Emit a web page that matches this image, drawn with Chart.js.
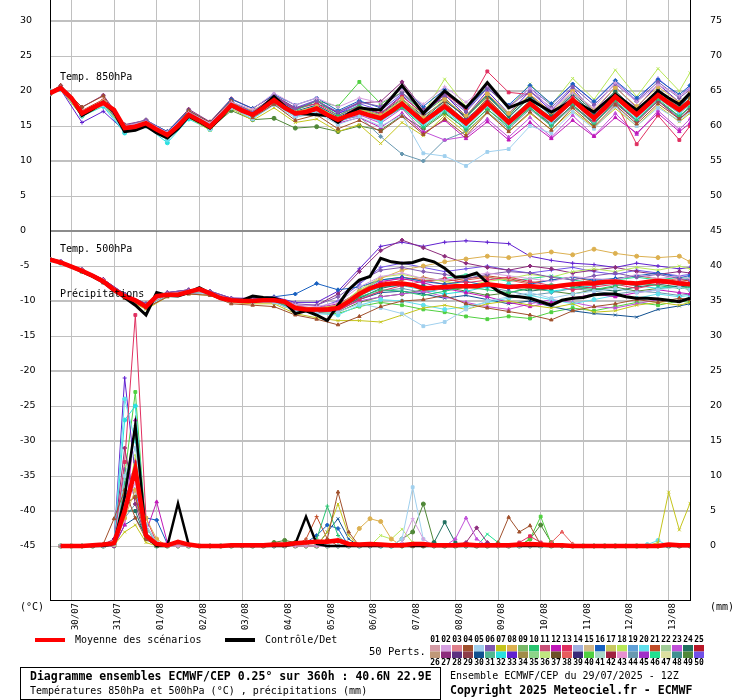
<!DOCTYPE html>
<html>
<head>
<meta charset="utf-8">
<script src="https://cdn.jsdelivr.net/npm/chart.js@4.4.1/dist/chart.umd.min.js"></script>
<style>
html,body{margin:0;padding:0;background:#fff}
canvas{display:block}
</style>
</head>
<body>
<canvas id="plot" width="740" height="700"></canvas>
<script>
// forecast steps (hours after 29/07 12Z)
const hours = [0,6,12,18,24,30,36,42,48,54,60,66,72,78,84,90,96,102,108,114,
  120,126,132,138,144,150,156,162,168,174,180,186,192,198,204,210,216,222,228,234,
  240,246,252,258,264,270,276,282,288,294,300,306,312,318,324,330,336,342,348,354,360];
const memberHours = [0,6,18,30,42,54,66,78,90,102,114,126,138,150,162,174,186,198,210,222,
  234,246,258,270,282,294,306,318,330,342,354,360];
const dayTicks = [12,36,60,84,108,132,156,180,204,228,252,276,300,324,348];
const dateLabels = ['30/07','31/07','01/08','02/08','03/08','04/08','05/08','06/08',
  '07/08','08/08','09/08','10/08','11/08','12/08','13/08'];
const tempTicks = [-45,-40,-35,-30,-25,-20,-15,-10,-5,0,5,10,15,20,25,30];
const rainTicks = [0,5,10,15,20,25,30,35,40,45,50,55,60,65,70,75];

const legendColors = ['#d49ba5','#d6a0e0','#e0808c','#a0502c','#a0d0ee','#8058b0','#c4c41c','#dcb050','#78b868','#28c470',
  '#c85078','#c018b8','#e03060','#a0b0e0','#d4b888','#1860c0','#c8c860','#b8e858','#60a0d8','#60e0ec',
  '#c04c28','#a0cc98','#c050d8','#207060','#b81828','#c09878','#8c2c7c','#5c3080','#8c3c48','#105090',
  '#50b890','#28e0e0','#6020d0','#a08c48','#8cd488','#c0e880','#6c5028','#e85c5c','#382878','#50d040',
  '#a8d8c8','#a02040','#e890d0','#6898b0','#a030c8','#20e090','#dce0a0','#409090','#508838','#7050e8'];

const t850Mean = [19.7,20.4,19.0,16.8,17.6,18.3,17.3,14.7,14.9,15.4,
  14.5,13.7,15.0,16.6,15.8,14.9,16.4,18.0,17.2,16.6,
  17.6,18.7,17.6,16.8,17.0,17.5,16.6,15.9,16.5,17.0,
  16.5,16.1,17.1,18.2,16.9,15.6,16.7,17.8,16.6,15.4,
  16.8,18.3,16.9,15.5,16.8,18.2,17.0,15.9,17.3,18.7,
  17.4,16.1,17.6,19.2,17.9,16.6,18.0,19.4,18.3,17.3,18.5];
const t850Ctrl = [19.6,20.5,19.0,16.5,17.4,18.4,17.0,14.2,14.4,15.0,
  14.0,13.3,14.6,16.4,15.6,14.7,16.2,17.9,17.2,16.6,
  17.8,19.2,17.8,16.8,16.7,16.6,16.5,15.5,16.8,17.6,
  17.4,17.3,19.0,20.8,18.8,16.8,18.4,20.0,18.8,17.6,
  19.3,21.2,19.4,17.6,18.2,18.8,17.9,17.0,17.8,18.6,
  17.8,17.0,18.3,19.5,18.4,17.3,18.6,20.0,19.0,18.1,19.7];
const t500Mean = [-4.1,-4.5,-5.1,-5.7,-6.4,-7.2,-8.4,-9.3,-9.9,-10.8,
  -9.3,-9.1,-9.1,-8.7,-8.3,-8.9,-9.6,-9.9,-10.0,-10.0,
  -9.9,-9.9,-10.1,-11.0,-11.2,-11.2,-11.2,-11.0,-10.1,-9.0,
  -8.2,-7.7,-7.5,-7.5,-7.7,-8.2,-8.1,-8.0,-7.9,-7.9,
  -7.9,-7.6,-7.8,-8.0,-7.9,-7.9,-8.0,-8.0,-7.8,-7.6,
  -7.5,-7.5,-7.3,-7.2,-7.4,-7.5,-7.3,-7.1,-7.3,-7.5,-7.6];
const t500Ctrl = [-4.0,-4.5,-5.1,-5.8,-6.5,-7.3,-8.5,-9.5,-10.6,-12.0,
  -8.8,-9.2,-9.3,-8.8,-8.1,-8.9,-9.6,-9.9,-9.9,-9.3,
  -9.5,-9.6,-10.1,-11.8,-11.4,-12.0,-12.8,-10.6,-8.4,-7.0,
  -6.5,-3.9,-4.4,-4.6,-4.5,-4.0,-4.4,-5.3,-6.6,-6.5,
  -6.0,-7.4,-8.6,-9.3,-9.4,-9.6,-10.1,-10.6,-9.9,-9.6,
  -9.5,-9.1,-9.0,-9.0,-9.4,-9.6,-9.6,-9.7,-9.9,-10.1,-9.6];
const rainMean = [null,0,0,0,0.1,0.2,0.4,5,11,1.5,
  0.3,0.1,0.6,0.2,0,0,0,0.1,0.1,0.1,
  0.1,0.2,0.2,0.4,0.5,0.6,0.6,0.8,0.3,0.2,
  0.3,0.2,0.1,0.1,0.3,0.3,0.1,0.1,0.1,0.2,
  0.1,0.1,0.1,0.1,0.2,0.3,0.2,0.1,0.1,0,
  0,0,0,0,0,0,0,0,0.2,0.1,0.1];
const rainCtrl = [null,0,0,0,0,0,0.3,7,17.3,1.5,
  0,0,6.1,0.2,0,0,0,0,0,0,
  0,0,0,0.3,4.2,0.3,0,0,0,0,
  0,0,0,0,0,0,0,0,0,0,
  0,0,0,0,0,0,0,0,0,0,
  0,0,0,0,0,0,0,0,0,0,0];

// the perturbed members drawn (numbers as in the colour key)
const memberIds = [2,4,5,6,7,8,10,12,13,16,18,20,21,23,24,27,30,32,33,38,40,44,46,49,50];

const t850Members = [
  [19.7,20.6,17.1,18.5,15.0,15.6,14.1,16.9,15.4,18.4,17.4,19.7,18.0,19.0,17.7,19.0,18.3,20.2,18.1,20.6,18.4,20.8,17.5,20.4,17.4,19.7,17.6,21.2,18.4,20.9,19.3,20.3],
  [19.9,20.8,17.7,19.3,14.5,15.0,13.5,17.2,15.5,18.6,16.2,18.1,15.8,16.6,14.6,15.8,14.2,16.4,13.8,16.0,13.6,16.9,14.2,17.0,14.4,17.6,14.9,18.0,15.3,18.2,16.0,17.2],
  [19.8,20.3,16.6,18.0,14.3,15.2,13.4,16.3,14.6,17.6,16.0,18.0,16.2,16.9,15.2,16.3,15.0,16.5,11.1,10.7,9.3,11.3,11.7,15.0,14.0,17.0,14.6,17.8,15.0,17.6,15.8,17.0],
  [19.6,20.5,16.9,18.4,15.0,15.9,14.0,17.0,15.2,18.5,17.0,19.3,17.5,18.6,17.0,18.4,17.8,19.8,17.2,19.4,17.0,20.4,17.8,20.0,17.6,20.6,18.0,21.0,18.5,21.3,19.0,20.2],
  [19.5,20.2,16.4,18.0,14.5,15.0,13.5,16.2,14.4,17.5,15.8,17.6,15.5,16.0,14.2,15.2,12.5,15.5,13.6,16.5,14.0,17.0,14.2,16.8,14.5,17.2,14.8,17.5,15.0,17.9,15.6,16.8],
  [19.8,20.5,17.0,18.5,15.0,15.8,14.0,17.0,15.3,18.3,17.2,19.0,17.0,17.8,16.0,17.5,16.5,18.9,16.2,18.8,16.5,19.6,16.8,19.5,17.0,20.0,17.3,20.5,17.8,20.6,18.4,19.8],
  [19.6,20.3,16.6,18.2,14.4,15.5,13.6,16.8,14.9,18.2,16.4,18.4,17.2,18.6,16.5,18.0,16.0,17.6,14.8,17.0,14.5,17.4,14.8,17.6,15.0,18.0,15.2,18.6,15.8,18.8,16.4,17.8],
  [19.7,20.4,16.8,18.4,14.8,15.3,13.8,16.7,15.0,18.1,16.8,19.0,16.5,17.2,15.4,16.2,14.8,16.8,14.0,15.8,13.2,15.6,13.0,15.5,13.2,15.8,13.5,16.2,14.0,16.8,14.2,15.4],
  [19.8,20.5,17.0,18.6,14.9,15.6,13.9,17.0,15.0,18.3,16.8,19.2,17.4,18.2,16.5,17.8,16.8,19.2,16.8,19.6,17.4,22.8,19.8,19.5,17.0,19.0,15.8,18.5,12.4,16.5,13.0,15.0],
  [19.7,20.5,17.0,18.5,15.0,15.8,14.2,17.2,15.5,18.8,17.5,19.5,18.0,19.0,17.2,18.6,17.6,20.5,17.8,20.2,17.5,20.5,18.0,20.8,18.2,21.0,18.5,21.5,19.0,21.6,19.5,20.8],
  [19.6,20.4,16.7,18.3,14.6,15.4,13.7,16.5,14.8,17.9,16.7,18.9,17.0,17.8,16.2,17.4,16.5,18.6,16.8,21.7,17.8,20.6,17.5,21.0,18.0,21.8,18.8,23.0,19.2,23.2,20.0,22.6],
  [20.0,20.2,16.5,18.1,14.2,15.0,13.0,16.4,14.5,17.8,16.2,18.5,16.4,17.0,15.5,16.8,15.6,17.8,15.0,17.2,14.8,17.8,15.0,17.8,15.4,18.4,15.6,18.8,16.0,19.0,16.8,18.0],
  [19.8,20.6,17.2,18.8,14.8,15.6,14.0,17.0,15.0,18.2,16.9,18.8,16.8,17.6,15.8,17.2,16.2,18.5,15.6,18.4,15.6,19.0,15.8,18.6,16.0,19.2,16.4,19.6,16.8,20.0,17.6,19.0],
  [19.7,20.3,16.6,18.1,14.6,15.3,13.6,16.6,14.8,17.8,16.4,18.4,16.6,17.2,15.6,16.6,15.4,17.5,14.2,13.0,13.5,16.0,13.4,16.2,13.4,16.5,13.6,16.8,13.8,17.2,14.5,16.0],
  [19.6,20.4,16.8,18.3,14.7,15.5,13.8,16.8,15.0,18.0,16.5,18.6,16.9,17.6,16.0,17.4,16.6,18.8,16.0,18.6,16.4,19.5,16.6,19.4,16.6,19.8,17.0,20.0,17.2,20.2,17.8,19.4],
  [19.8,20.8,17.7,19.4,15.2,15.8,14.2,17.4,15.6,18.9,17.5,19.4,17.6,18.2,17.0,18.3,18.5,21.3,17.4,19.0,16.0,18.5,15.5,18.0,15.2,18.0,15.4,18.4,15.6,18.6,16.0,17.4],
  [19.7,20.5,16.9,18.4,14.7,15.3,13.6,16.6,14.8,18.1,16.7,18.9,17.1,18.0,16.3,17.6,16.8,18.9,16.4,18.6,16.3,19.4,16.2,19.2,16.4,19.5,16.6,19.8,17.0,20.0,17.6,19.4],
  [19.9,20.2,16.4,17.8,14.0,15.0,12.6,16.0,14.5,17.6,16.0,18.2,16.4,17.4,15.6,16.8,15.8,17.6,15.2,17.4,15.0,18.0,15.4,18.2,15.6,18.5,16.0,19.0,16.4,19.0,17.0,18.2],
  [19.5,20.2,15.5,17.1,14.3,15.2,13.4,16.4,15.0,18.2,16.8,19.0,17.3,18.6,16.8,17.8,16.8,19.4,16.6,19.5,16.4,20.0,16.8,20.0,17.2,20.4,17.0,20.6,17.6,21.0,18.4,19.6],
  [19.8,20.5,16.8,18.3,14.6,15.4,13.6,16.6,14.8,17.8,16.5,18.6,16.6,17.3,15.7,16.8,16.0,18.0,15.4,17.6,15.2,18.2,15.2,18.0,15.6,18.4,15.8,18.9,16.2,19.0,16.8,18.0],
  [19.6,20.3,16.7,18.2,14.6,15.6,13.8,16.8,15.2,18.3,16.8,19.0,17.4,18.6,17.8,21.3,18.2,19.8,16.8,19.0,16.2,19.2,16.4,19.0,16.6,19.4,16.8,19.8,17.0,20.0,17.4,19.0],
  [19.7,20.4,16.8,18.3,14.7,15.4,13.8,16.7,15.0,18.1,16.7,18.8,16.9,17.4,15.8,16.4,13.5,11.0,10.0,13.0,14.2,17.0,14.6,17.4,15.0,17.8,15.4,18.2,15.8,18.6,16.2,17.8],
  [19.7,20.4,16.8,18.3,14.8,15.5,13.8,16.7,15.0,18.0,16.6,18.9,17.0,17.9,16.2,17.5,16.4,18.4,15.9,18.2,15.8,18.8,15.9,18.6,16.2,19.0,16.4,19.4,16.8,19.6,17.4,18.8],
  [19.6,20.2,16.5,18.0,14.4,15.2,13.4,16.2,14.6,17.2,15.9,16.1,14.7,14.9,14.2,15.0,14.4,16.5,14.6,16.8,14.6,17.4,15.0,17.6,15.2,18.0,15.5,18.4,15.8,18.6,16.4,17.6],
  [19.7,20.5,17.0,18.6,15.0,15.8,14.1,17.0,15.3,18.4,17.0,19.2,17.6,18.7,16.8,18.2,17.2,19.6,17.0,19.8,17.2,20.6,17.8,20.4,18.0,21.0,18.4,21.4,18.6,21.8,19.2,20.6]
];

const t500Members = [
  [-4.0,-4.4,-5.6,-7.0,-9.2,-10.6,-9.0,-8.6,-8.8,-9.8,-9.9,-9.6,-10.5,-10.8,-10.2,-8.0,-6.5,-6.0,-6.8,-7.0,-6.5,-6.0,-6.4,-6.8,-7.2,-6.5,-6.8,-7.0,-6.2,-6.8,-6.4,-6.8],
  [-4.2,-4.6,-5.8,-7.4,-9.6,-11.0,-9.4,-9.0,-9.2,-10.4,-10.6,-10.8,-12.0,-12.6,-13.4,-12.2,-10.8,-10.0,-9.8,-9.2,-10.4,-11.0,-11.5,-12.0,-12.7,-11.4,-10.8,-10.4,-9.8,-10.2,-9.6,-9.8],
  [-4.1,-4.5,-5.7,-7.2,-9.4,-10.9,-9.2,-8.8,-9.0,-10.0,-10.2,-10.2,-11.4,-11.8,-11.6,-10.4,-11.0,-11.8,-13.6,-13.0,-11.2,-10.0,-9.4,-8.8,-9.6,-9.0,-8.6,-8.2,-8.8,-8.4,-8.0,-8.4],
  [-4.0,-4.3,-5.5,-7.0,-9.0,-10.4,-8.8,-8.4,-8.6,-9.6,-9.7,-9.5,-10.4,-10.6,-9.4,-7.2,-5.6,-5.2,-5.8,-6.2,-6.8,-6.2,-5.8,-6.0,-6.6,-7.0,-6.4,-6.0,-6.6,-6.2,-6.8,-7.0],
  [-4.2,-4.6,-5.9,-7.4,-9.6,-11.2,-9.4,-9.0,-9.2,-10.2,-10.4,-10.4,-11.8,-12.4,-12.8,-12.8,-13.0,-12.0,-11.0,-10.6,-11.2,-10.4,-10.0,-10.6,-11.0,-10.4,-11.6,-11.4,-10.6,-10.2,-10.6,-10.2],
  [-4.1,-4.5,-5.6,-7.1,-9.2,-10.7,-9.0,-8.6,-8.8,-9.8,-9.9,-9.8,-10.8,-11.0,-10.6,-8.6,-6.8,-5.6,-5.0,-4.4,-4.0,-3.6,-3.8,-3.4,-3.0,-3.4,-2.6,-3.2,-3.6,-3.8,-3.6,-4.4],
  [-4.1,-4.5,-5.7,-7.2,-9.3,-10.8,-9.1,-8.7,-8.9,-9.9,-10.0,-10.0,-11.2,-11.4,-11.0,-9.4,-8.4,-8.6,-9.2,-8.6,-8.0,-8.4,-8.8,-8.2,-7.6,-8.0,-8.4,-7.8,-7.4,-7.8,-8.2,-8.0],
  [-4.0,-4.4,-5.6,-7.0,-9.2,-10.6,-9.0,-8.6,-8.8,-9.8,-9.8,-9.8,-10.8,-11.0,-10.4,-8.8,-7.2,-6.8,-7.4,-8.2,-8.8,-9.4,-10.2,-10.8,-10.2,-9.6,-9.0,-9.4,-8.8,-8.4,-8.8,-9.0],
  [-4.1,-4.5,-5.7,-7.3,-9.4,-10.9,-9.2,-8.8,-9.0,-10.0,-10.1,-10.0,-11.2,-11.6,-11.4,-9.8,-8.6,-7.8,-7.2,-6.8,-7.4,-7.0,-6.6,-7.2,-7.8,-8.4,-8.0,-7.6,-8.2,-7.6,-7.2,-7.4],
  [-4.1,-4.5,-5.7,-7.2,-9.3,-10.6,-9.0,-8.8,-9.0,-9.8,-9.6,-9.4,-9.0,-7.5,-8.4,-8.0,-7.0,-6.6,-7.2,-7.6,-7.2,-7.8,-8.2,-7.6,-7.0,-6.6,-7.0,-6.8,-6.4,-6.0,-6.6,-6.4],
  [-4.0,-4.4,-5.6,-7.1,-9.2,-10.7,-9.0,-8.6,-8.8,-9.8,-9.9,-9.9,-11.0,-11.2,-10.8,-8.4,-6.6,-6.2,-6.8,-7.2,-7.8,-7.2,-6.8,-6.2,-6.6,-5.8,-5.4,-5.8,-5.2,-5.6,-5.0,-5.4],
  [-4.1,-4.5,-5.8,-7.3,-9.4,-10.8,-9.2,-8.8,-9.0,-10.0,-10.1,-10.1,-11.4,-11.8,-12.0,-10.6,-9.8,-10.0,-10.6,-11.2,-10.8,-10.2,-9.6,-9.2,-9.8,-10.4,-9.8,-9.2,-9.6,-9.0,-9.4,-9.2],
  [-4.1,-4.5,-5.7,-7.2,-9.3,-10.8,-9.1,-8.7,-8.9,-9.9,-10.0,-9.9,-11.0,-11.2,-10.6,-9.0,-7.8,-7.0,-6.6,-7.2,-6.8,-6.4,-6.8,-7.4,-7.0,-6.6,-7.2,-6.8,-6.4,-6.8,-7.2,-7.0],
  [-4.0,-4.4,-5.6,-7.1,-9.3,-10.7,-9.1,-8.7,-8.9,-9.9,-10.0,-10.0,-11.2,-11.4,-11.2,-10.0,-9.4,-9.0,-8.6,-9.4,-10.2,-10.8,-11.2,-10.4,-9.8,-10.2,-10.8,-11.0,-10.4,-9.8,-10.0,-9.6],
  [-4.1,-4.5,-5.7,-7.2,-9.3,-10.8,-9.1,-8.7,-8.9,-9.9,-10.0,-10.0,-11.1,-11.4,-11.2,-9.6,-8.2,-7.6,-7.8,-8.4,-8.0,-7.6,-8.0,-8.6,-8.2,-7.8,-8.2,-8.6,-8.0,-7.6,-8.0,-7.8],
  [-4.0,-4.4,-5.5,-6.9,-9.0,-10.4,-8.8,-8.4,-8.6,-9.6,-9.7,-9.6,-10.6,-10.6,-9.0,-5.8,-2.8,-1.3,-2.4,-3.6,-4.6,-5.2,-5.6,-5.0,-5.4,-6.0,-5.6,-5.2,-5.8,-6.2,-5.8,-6.0],
  [-4.1,-4.5,-5.7,-7.2,-9.4,-10.9,-9.2,-8.8,-9.0,-10.0,-10.1,-10.1,-11.3,-11.6,-11.4,-9.8,-8.8,-8.6,-9.0,-9.6,-9.2,-9.8,-10.4,-10.0,-10.8,-11.4,-11.8,-12.0,-12.3,-11.2,-10.7,-10.4],
  [-4.2,-4.6,-5.8,-7.3,-9.4,-10.9,-9.2,-8.8,-9.0,-10.0,-10.1,-10.0,-11.2,-11.5,-11.0,-9.2,-8.0,-7.8,-8.4,-9.0,-8.6,-8.0,-7.6,-8.0,-8.6,-8.2,-7.8,-7.4,-7.8,-8.2,-7.8,-8.0],
  [-4.0,-4.3,-5.5,-6.9,-9.0,-10.4,-8.8,-8.4,-8.6,-9.6,-9.6,-9.4,-10.2,-10.2,-8.6,-5.4,-2.2,-1.6,-2.2,-1.6,-1.4,-1.6,-1.8,-3.6,-4.2,-4.6,-4.8,-5.2,-4.6,-5.0,-5.4,-5.2],
  [-4.1,-4.5,-5.7,-7.2,-9.3,-10.8,-9.1,-8.7,-8.9,-9.9,-10.0,-9.9,-11.0,-11.2,-10.8,-9.0,-7.4,-6.6,-7.0,-7.6,-7.0,-6.6,-7.0,-7.6,-8.2,-7.6,-7.0,-7.4,-7.8,-7.2,-6.8,-7.2],
  [-4.1,-4.5,-5.7,-7.2,-9.3,-10.8,-9.1,-8.7,-8.9,-9.9,-10.0,-10.0,-11.2,-11.6,-11.8,-10.8,-10.2,-10.6,-11.2,-11.6,-12.2,-12.6,-12.2,-12.5,-11.6,-11.0,-11.4,-10.8,-10.2,-10.6,-10.0,-10.2],
  [-4.1,-4.5,-5.7,-7.2,-9.3,-10.8,-9.1,-8.7,-8.9,-9.9,-10.0,-10.0,-11.1,-11.4,-11.0,-9.6,-8.6,-8.2,-8.8,-8.2,-7.6,-8.0,-8.6,-9.2,-8.8,-8.2,-8.6,-9.0,-8.6,-8.8,-9.2,-9.0],
  [-4.1,-4.5,-5.7,-7.2,-9.3,-10.8,-9.1,-8.7,-8.9,-9.9,-10.0,-9.9,-11.0,-11.2,-10.6,-8.6,-7.0,-6.6,-7.2,-6.8,-6.2,-6.6,-7.2,-6.8,-6.4,-7.0,-7.4,-7.0,-6.6,-7.0,-6.6,-6.8],
  [-4.1,-4.5,-5.7,-7.2,-9.3,-10.8,-9.2,-8.8,-9.0,-10.0,-10.2,-10.2,-11.4,-11.8,-11.6,-10.2,-9.4,-9.0,-8.4,-8.0,-8.6,-9.2,-8.8,-8.2,-8.6,-9.0,-8.4,-8.0,-8.6,-8.2,-8.0,-8.4],
  [-4.0,-4.4,-5.6,-7.0,-9.2,-10.6,-9.0,-8.6,-8.8,-9.8,-9.8,-9.8,-10.8,-11.0,-10.0,-7.6,-5.2,-4.6,-5.2,-5.8,-5.4,-5.0,-5.6,-6.0,-5.6,-5.2,-5.8,-6.2,-5.6,-6.0,-6.4,-6.2]
];

const rainMembers = [
  [null,0,0,0,0,0,0.5,6,9,2, 0.2,0,0,0,0,0,0,0,0,0, 0,0,0,0,0,0,0,0,0,0, 0,0,0,0.5,3.9,1,0,0,0,0, 0,0,0,0,0,0,0,0,0,0, 0,0,0,0,0,0,0,0,0,0, 0],
  [null,0,0,0,0,0.3,3.9,8,4,1, 0.1,0,0,0,0,0,0,0,0,0, 0,0,0,0,0,0,1,7.7,2,0, 0,0,0,0,0,0,0,0,0,0, 0,0,0.5,4.1,2,2.9,0.2,0,0,0, 0,0,0,0,0,0,0,0,0,0, 0],
  [null,0,0,0,0,0,0.2,10,14,3, 0.5,0,0,0,0,0,0,0,0,0, 0,0,0,0,0,0,0,0,0,0, 0,0,0,1,8.4,1,0,0,0,0, 0,0,0,0,0,0,0,0,0,0, 0,0,0,0,0,0,0,0,0,0, 0],
  [null,0,0,0,0,0,0.3,5,12,1.5, 0.2,0,0,0,0,0,0,0,0,0, 0,0,0,0,0,0,0,0,0,0, 0,0,0,0,0,0,0,0,0,0, 0,0,0,0,0,0,0,0,0,0, 0,0,0,0,0,0,0,0,0,0, 0],
  [null,0,0,0,0,0,0.1,2,3,0.5, 0,0,0,0,0,0,0,0,0,0, 0,0,0,0,0,0,2,6,1.5,0, 0,0,0,0,0,0,0,0,0,0, 0,0,0,0,0,0,0,0,0,0, 0,0,0,0,0,0,0,0.5,7.7,2.3, 6.1],
  [null,0,0,0,0,0,0.2,4,8,4, 1,0,0,0,0,0,0,0,0,0, 0,0,0,0,0,0,0,0,0,2.5, 3.9,3.5,1,0,0,0,0,0,0,0, 0,0,0,0,0,0,0,0,0,0, 0,0,0,0,0,0,0,0,0,0, 0],
  [null,0,0,0,0,0,0.2,9,16,2, 0,0,0,0,0,0,0,0,0,0, 0,0,0,0,0,1,5.7,1.5,0,0, 0,0,0,0,0,0,0,0,0,0, 0,0,0,0,0,0,0,0,0,0, 0,0,0,0,0,0,0,0,0,0, 0],
  [null,0,0,0,0,0,0,3,18,2, 6.3,0.5,0,0,0,0,0,0,0,0, 0,0,0,0,0,0,0,0,0,0, 0,0,0,0,0,0,0,0,0,0, 0,0,0,0,0,0,0,0,0,0, 0,0,0,0,0,0,0,0,0,0, 0],
  [null,0,0,0,0,0,0.4,12,33,4, 0.5,0,0,0,0,0,0,0,0,0, 0,0,0,0,0,0,0,0,0,0, 0,0,0,0,0,0,0,0,0,0, 0,0,0,0,0.5,1.4,0.5,0,0,0, 0,0,0,0,0,0,0,0,0,0, 0],
  [null,0,0,0,0,0,0.2,7,10,4, 3.7,0.3,0,0,0,0,0,0,0,0, 0,0,0,0,0.5,1.5,3,2.5,0,0, 0,0,0,0,0,0,0,0,0,0, 0,0,0,0,0,0,0,0,0,0, 0,0,0,0,0,0,0,0,0,0, 0],
  [null,0,0,0,0,0,0,4,13,2, 0,0,0,0,0,0,0,0,0,0, 0,0,0,0,0,0,0,0,0,0, 0,1.5,1,2.4,0.5,0,0,0,0,0, 0,0,0,0,0,0,0,0,0,0, 0,0,0,0,0,0,0,0,0,0, 0],
  [null,0,0,0,0,0,0.3,21,15,3, 0.2,0,0,0,0,0,0,0,0,0, 0,0,0,0,0,0,0,0,0,0, 0,0,0,0,0,0,0,0,0,0, 0,0,0,0,0,0,0,0,0,0, 0,0,0,0,0,0,0.2,0.8,0,0, 0],
  [null,0,0,0,0,0,0.5,6,7,1, 0,0,0,0,0,0,0,0,0,0, 0,0,0,0,1,4.2,1,0,0,0, 0,0,0,0,0,0,0,0,0,0, 0,0,0,0,0,0,0,0,0,0, 0,0,0,0,0,0,0,0,0,0, 0],
  [null,0,0,0,0,0,0,9,11,2, 0,0,0,0,0,0,0,0,0,0, 0,0,0,0,0,0,0,0,0,0, 0,0,0,0,0,0,0,0,1,4, 1,0,0,0,0,0,0,0,0,0, 0,0,0,0,0,0,0,0,0,0, 0],
  [null,0,0,0,0,0,0,5,5,1, 0,0,0,0,0,0,0,0,0,0, 0,0,0,0,0,0,0,0,0,0, 0,0,0,0,0,0,0.5,3.4,0.5,0, 0,0,0,0,0,0,0,0,0,0, 0,0,0,0,0,0,0,0,0,0, 0],
  [null,0,0,0,0,0.2,1,14,6,1, 0,0,0,0,0,0,0,0,0,0, 0,0,0,0,0,0,0,0,0,0, 0,0,0,0,0,0,0,0,0,0.5, 2.6,0.5,0,0,0,0,0,0,0,0, 0,0,0,0,0,0,0,0,0,0, 0],
  [null,0,0,0,0,0,0,3,4,1.5, 0,0,0,0,0,0,0,0,0,0, 0,0,0,0,0,0,2,3.9,1,0, 0,0,0,0,0,0,0,0,0,0, 0,0,0,0,0,0,0,0,0,0, 0,0,0,0,0,0,0,0,0,0, 0],
  [null,0,0,0,0,0,0.3,18,20,2, 0,0,0,0,0,0,0,0,0,0, 0,0,0,0,0,0,0,0,0,0, 0,0,0,0,0,0,0,0,0,0, 0,0,0,0,0,0,0,0,0,0, 0,0,0,0,0,0,0,0,0,0, 0],
  [null,0,0,0,0,0,0.5,24,10,1, 0,0,0,0,0,0,0,0,0,0, 0,0,0,0,0,0,0,0,0,0, 0,0,0,0,0,0,0,0,0,0, 0,0,0,0,0,0,0,0,0,0, 0,0,0,0,0,0,0,0,0,0, 0],
  [null,0,0,0,0,0,0.2,8,16,3, 0,0,0,0,0,0,0,0,0,0, 0,0,0,0,0,0,0,0,0,0, 0,0,0,0,0,0,0,0,0,0, 0,0,0,0,0,0,0,0.5,2,0.3, 0,0,0,0,0,0,0,0,0,0, 0],
  [null,0,0,0,0,0,0,10,22,2, 0,0,0,0,0,0,0,0,0,0, 0,0,0,0,0,0,0,0,0,0, 0,0,0,0,0,0,0,0,0,0, 0,0,0,0,0,1,4.2,0.3,0,0, 0,0,0,0,0,0,0,0,0,0, 0],
  [null,0,0,0,0,0,0,4,6,3, 0.5,0,0,0,0,0,0,0,0,0, 0,0,0,0,0,0,0,0,0,0, 0,0,0,0,0,0,0,0,0,0, 0,0,0,0,0,0,0,0,0,0, 0,0,0,0,0,0,0,0,0,0, 0],
  [null,0,0,0,0,0,0.2,7,17,3, 0,0,0,0,0,0,0,0,0,0, 0,0,0,0,0,0,0,0,0,0, 0,0,0,0,0,0,0,0,0,0, 0,1.7,0.5,0,0,0,0,0,0,0, 0,0,0,0,0,0,0,0,0,0, 0],
  [null,0,0,0,0,0,0,6,7,2, 0,0,0,0,0,0,0,0,0,0, 0,0.5,0.8,0.5,0,0,0,0,0,0, 0,0,0,1,2,6,0.5,0,0,0, 0,0,0,0,0,1,3,0.5,0,0, 0,0,0,0,0,0,0,0,0,0, 0],
  [null,0,0,0,0,0,0.3,11,8,1, 0,0,0,0,0,0,0,0,0,0, 0,0,0,0,0,0,0,0,0,0, 0,0,0,0,0,0,0,0,0,0, 0,0,0,0,0,0,0,0,0,0, 0,0,0,0,0,0,0,0,0,0, 0]
];

const pointShapes = ['cross','triangle','rect','rectRot','crossRot','circle'];

function pts(xs, ys) {
  return ys.map((v, i) => ({x: xs[i], y: v}));
}

const datasets = [];
// ensemble mean on top, control under it, members below
datasets.push({data: pts(hours, t850Mean), yAxisID: 'y', borderColor: '#ff0000', borderWidth: 4.5, pointRadius: 0, order: 0});
datasets.push({data: pts(hours, t500Mean), yAxisID: 'y', borderColor: '#ff0000', borderWidth: 4.5, pointRadius: 0, order: 0});
datasets.push({data: pts(hours, rainMean), yAxisID: 'y2', borderColor: '#ff0000', borderWidth: 4.5, pointRadius: 0, order: 0});
datasets.push({data: pts(hours, t850Ctrl), yAxisID: 'y', borderColor: '#000000', borderWidth: 3, pointRadius: 0, order: 1});
datasets.push({data: pts(hours, t500Ctrl), yAxisID: 'y', borderColor: '#000000', borderWidth: 3, pointRadius: 0, order: 1});
datasets.push({data: pts(hours, rainCtrl), yAxisID: 'y2', borderColor: '#000000', borderWidth: 2.5, pointRadius: 0, order: 1});

memberIds.forEach((id, k) => {
  const col = legendColors[id - 1];
  const common = {borderColor: col, backgroundColor: col, borderWidth: 1, pointRadius: 2,
    pointStyle: pointShapes[k % pointShapes.length], pointBorderWidth: 1, order: 2};
  datasets.push(Object.assign({data: pts(memberHours, t850Members[k]), yAxisID: 'y'}, common));
  datasets.push(Object.assign({data: pts(memberHours, t500Members[k]), yAxisID: 'y'}, common));
  datasets.push(Object.assign({data: pts(hours, rainMembers[k]), yAxisID: 'y2'}, common));
});

const mono = '"DejaVu Sans Mono", monospace';

const decorations = {
  id: 'decorations',
  afterDatasetsDraw(chart) {
    const c = chart.ctx, y = chart.scales.y, left = chart.chartArea.left;
    c.save();
    c.fillStyle = '#000';
    c.font = '10px ' + mono;
    c.textBaseline = 'middle';
    c.fillText('Temp. 850hPa', left + 10, y.getPixelForValue(22));
    c.fillText('Temp. 500hPa', left + 10, y.getPixelForValue(-2.6));
    c.fillText('Précipitations', left + 10, y.getPixelForValue(-9.1));
    c.restore();
  },
  afterDraw(chart) {
    const c = chart.ctx;
    c.save();
    c.fillStyle = '#000';
    c.textBaseline = 'middle';
    c.font = '10px ' + mono;
    c.fillText('(°C)', 20, 607);
    c.fillText('(mm)', 710, 607);

    // legend lines
    c.lineWidth = 4;
    c.strokeStyle = '#ff0000';
    c.beginPath(); c.moveTo(35, 640); c.lineTo(65, 640); c.stroke();
    c.strokeStyle = '#000000';
    c.beginPath(); c.moveTo(225, 640); c.lineTo(255, 640); c.stroke();
    c.fillText('Moyenne des scénarios', 75, 640);
    c.fillText('Contrôle/Det', 265, 640);
    c.font = '10.5px ' + mono;
    c.fillText('50 Perts.', 369, 652);

    // colour key of the 50 members
    c.font = 'bold 8px ' + mono;
    c.textAlign = 'center';
    for (let i = 0; i < 25; i++) {
      const bx = 430 + i * 11;
      c.fillStyle = legendColors[i];
      c.fillRect(bx, 645, 10, 6.5);
      c.fillStyle = legendColors[i + 25];
      c.fillRect(bx, 651.5, 10, 6.5);
      c.fillStyle = '#000';
      c.fillText(String(i + 1).padStart(2, '0'), bx + 5, 639.5);
      c.fillText(String(i + 26), bx + 5, 662.5);
    }
    c.textAlign = 'left';

    // footer
    c.strokeStyle = '#000';
    c.lineWidth = 1;
    c.strokeRect(20.5, 667.5, 420, 32);
    c.font = 'bold 11.5px ' + mono;
    c.fillText('Diagramme ensembles ECMWF/CEP 0.25° sur 360h : 40.6N 22.9E', 30, 677.5);
    c.font = '10px ' + mono;
    c.fillText('Températures 850hPa et 500hPa (°C) , précipitations (mm)', 30, 691);
    c.fillText('Ensemble ECMWF/CEP du 29/07/2025 - 12Z', 450, 676);
    c.font = 'bold 11.5px ' + mono;
    c.fillText('Copyright 2025 Meteociel.fr - ECMWF', 450, 691.5);
    c.restore();
  }
};

const config = {
  type: 'line',
  data: {datasets: datasets},
  options: {
    responsive: false,
    animation: false,
    parsing: false,
    normalized: true,
    layout: {autoPadding: false, padding: {left: 20, right: 0, top: 0, bottom: 0}},
    elements: {line: {tension: 0, fill: false}},
    plugins: {legend: {display: false}, tooltip: {enabled: false}},
    events: [],
    scales: {
      x: {
        type: 'linear', position: 'bottom', min: 0, max: 360,
        afterBuildTicks: s => { s.ticks = dayTicks.map(v => ({value: v})); },
        afterFit: s => { s.height = 100; s.paddingLeft = 0; s.paddingRight = 0; },
        ticks: {
          callback: (v, i) => dateLabels[i],
          autoSkip: false, minRotation: 90, maxRotation: 90,
          font: {family: mono, size: 9}, color: '#000', padding: 3, labelOffset: 4
        },
        grid: {color: '#c0c0c0', lineWidth: 1, drawTicks: false},
        border: {color: '#000', width: 1}
      },
      y: {
        type: 'linear', position: 'left', min: -52.714, max: 33,
        afterBuildTicks: s => { s.ticks = tempTicks.map(v => ({value: v})); },
        afterFit: s => { s.width = 30; s.paddingTop = 0; s.paddingBottom = 0; },
        ticks: {font: {family: 'DejaVu Sans', size: 9.5}, color: '#000', crossAlign: 'far', padding: 0},
        grid: {
          drawTicks: false,
          color: ctx => ctx.tick && ctx.tick.value === 0 ? '#8c8c8c' : '#c0c0c0',
          lineWidth: ctx => (ctx.tick && ctx.tick.value % 10 === 0) ? 2 : 1
        },
        border: {color: '#000', width: 1}
      },
      y2: {
        type: 'linear', position: 'right', min: -7.714, max: 78,
        afterBuildTicks: s => { s.ticks = rainTicks.map(v => ({value: v})); },
        afterFit: s => { s.width = 50; s.paddingTop = 0; s.paddingBottom = 0; },
        ticks: {font: {family: 'DejaVu Sans', size: 9.5}, color: '#000', padding: 20},
        grid: {display: false, drawTicks: false},
        border: {color: '#000', width: 1}
      }
    }
  },
  plugins: [decorations]
};

const ctx = document.getElementById('plot').getContext('2d');
const chart = new Chart(ctx, config);
</script>
</body>
</html>
